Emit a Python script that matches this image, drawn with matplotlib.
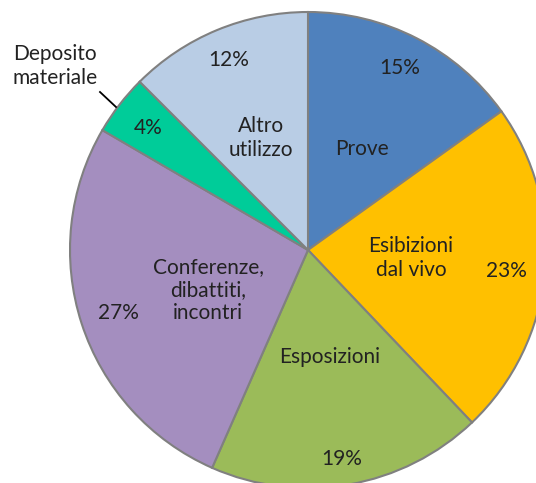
import matplotlib.pyplot as plt

# Data
labels = ["Prove", "Esibizioni\ndal vivo", "Esposizioni",
          "Conferenze,\ndibattiti,\nincontri", "Deposito\nmateriale",
          "Altro\nutilizzo"]
values = [15.1, 22.8, 18.7, 26.8, 4.1, 12.5]
pct_labels = ["15%", "23%", "19%", "27%", "4%", "12%"]
colors = ["#4F81BD", "#FFC000", "#9BBB59", "#A48EBF", "#00CC99", "#B9CDE5"]

W, H = 536, 483
fig = plt.figure(figsize=(W / 100, H / 100), dpi=100)
ax = fig.add_axes([0, 0, 1, 1])

cx, cy, r = 308, H - 250, 238
ax.pie(values, colors=colors, startangle=90, counterclock=False,
       center=(cx, cy), radius=r, frame=True,
       wedgeprops=dict(edgecolor="#808080", linewidth=1.5))
ax.set_xlim(0, W)
ax.set_ylim(0, H)
ax.set_aspect("equal")
ax.axis("off")

font = dict(family="Lato", fontsize=15, color="#222222",
            ha="center", va="center", linespacing=1.2)

# label and percent positions (pixel coords, y from top)
name_pos = [(362, 149), (411, 258), (330, 357), (208, 290), (55, 66), (261, 138)]
pct_pos = [(400, 68), (506, 271), (342, 459), (118, 313), (148, 128), (229, 60)]

for lab, p, (nx, ny), (px, py) in zip(labels, pct_labels, name_pos, pct_pos):
    ax.text(nx, H - ny, lab, **font)
    ax.text(px, H - py, p, **font)

# leader line for Deposito materiale
ax.plot([100, 116], [H - 92, H - 107], color="black", lw=1.3)

fig.savefig("out.png", dpi=100)
